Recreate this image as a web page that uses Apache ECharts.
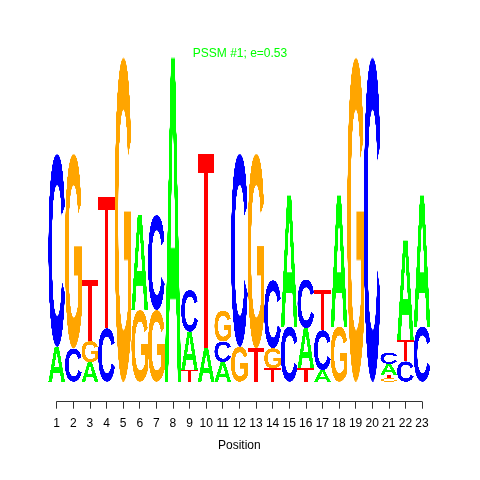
<!DOCTYPE html>
<html>
<head>
<meta charset="utf-8">
<script src="https://cdn.jsdelivr.net/npm/echarts@6/dist/echarts.min.js"></script>
<style>
  html, body { margin: 0; padding: 0; background: #fff; }
  #main { width: 480px; height: 480px; }
</style>
</head>
<body>
<div id="main"></div>
<script>
// positions and information content (bits) per base
var positions = [1, 2, 3, 4, 5, 6, 7, 8, 9, 10, 11, 12, 13, 14, 15, 16, 17, 18, 19, 20, 21, 22, 23];
var bitsA = [0.215, 0, 0.12, 0, 0, 0.586, 0, 2.0, 0.236, 0.206, 0.122, 0, 0, 0, 0.81, 0.247, 0.072, 0.81, 0, 0, 0.067, 0.617, 0.81];
var bitsC = [1.19, 0.205, 0, 0.33, 0, 0, 0.586, 0, 0.257, 0, 0.126, 1.19, 0, 0.42, 0.34, 0.30, 0.245, 0, 0, 2.0, 0.068, 0.125, 0.34];
var bitsG = [0, 1.20, 0.13, 0, 2.0, 0.442, 0.442, 0, 0, 0, 0.19, 0.216, 1.20, 0.123, 0, 0, 0, 0.34, 2.0, 0, 0.021, 0, 0];
var bitsT = [0, 0, 0.376, 0.81, 0, 0, 0, 0, 0.072, 1.20, 0, 0, 0.206, 0.083, 0, 0.083, 0.25, 0, 0, 0, 0.022, 0.13, 0];
var letters = ["A", "C", "G", "T"];
var tickLabels = positions.map(function (p) { return String(p); });

var letterColors = ["#00ff00", "#0000ff", "#ffa500", "#ff0000"];

// draw each letter once on a canvas, cropped to its ink box
function makeGlyph(ch, color) {
  if (ch === "T") {
    // T as in seqLogo: thin bar on top, stem in the middle
    var t = document.createElement("canvas");
    t.width = 300;
    t.height = 400;
    var tc = t.getContext("2d");
    tc.fillStyle = color;
    tc.fillRect(0, 0, 300, 40);
    tc.fillRect(117, 0, 66, 400);
    return t;
  }
  var c = document.createElement("canvas");
  c.width = 600;
  c.height = 600;
  var ctx = c.getContext("2d");
  ctx.font = 'bold 400px "Liberation Sans", Arial, sans-serif';
  ctx.fillStyle = color;
  ctx.textBaseline = "alphabetic";
  ctx.fillText(ch, 100, 480);
  var img = ctx.getImageData(0, 0, c.width, c.height).data;
  var x0 = c.width, x1 = 0, y0 = c.height, y1 = 0;
  for (var y = 0; y < c.height; y++) {
    for (var x = 0; x < c.width; x++) {
      if (img[(y * c.width + x) * 4 + 3] > 60) {
        if (x < x0) x0 = x;
        if (x > x1) x1 = x;
        if (y < y0) y0 = y;
        if (y > y1) y1 = y;
      }
    }
  }
  var out = document.createElement("canvas");
  out.width = x1 - x0 + 1;
  out.height = y1 - y0 + 1;
  out.getContext("2d").drawImage(c, x0, y0, out.width, out.height, 0, 0, out.width, out.height);
  return out;
}
var glyphs = letters.map(function (l, i) { return makeGlyph(l, letterColors[i]); });

// stack letters per position, smallest at the bottom
var stacks = [];
var allBits = [bitsA, bitsC, bitsG, bitsT];
positions.forEach(function (p, i) {
  var col = [0, 1, 2, 3].map(function (k) { return { k: k, v: allBits[k][i] }; });
  col.sort(function (a, b) { return a.v - b.v; });
  var base = 0;
  col.forEach(function (d) {
    if (d.v > 0) {
      stacks.push([p, base, base + d.v, d.k]);
      base += d.v;
    }
  });
});

var chart = echarts.init(document.getElementById("main"));
var font = '"Liberation Sans", Arial, sans-serif';
chart.setOption({
  animation: false,
  backgroundColor: "#ffffff",
  title: {
    text: "PSSM #1; e=0.53",
    left: "center",
    top: 43,
    textStyle: { color: "#00ff00", fontSize: 12, fontWeight: "normal", fontFamily: font }
  },
  grid: [
    { left: 48.4, width: 381.9, top: 57.3, height: 324.4 },
    { left: 56.7, width: 365.3, top: 300, height: 101.7 }
  ],
  xAxis: [
    { type: "value", gridIndex: 0, min: 0.5, max: 23.5, show: false },
    {
      type: "value",
      gridIndex: 1,
      min: 1,
      max: 23,
      interval: 1,
      name: "Position",
      nameLocation: "middle",
      nameGap: 38,
      nameTextStyle: { color: "#000", fontSize: 12, fontFamily: font },
      splitLine: { show: false },
      axisLine: { lineStyle: { color: "#333", width: 1 } },
      axisTick: { length: 7, lineStyle: { color: "#333" } },
      axisLabel: {
        margin: 16,
        color: "#000",
        fontSize: 12,
        fontFamily: font,
        formatter: function (v) { return tickLabels[v - 1]; }
      }
    }
  ],
  yAxis: [
    { type: "value", gridIndex: 0, min: 0, max: 2, show: false },
    { type: "value", gridIndex: 1, min: 0, max: 1, show: false }
  ],
  series: [
    {
      type: "custom",
      xAxisIndex: 0,
      yAxisIndex: 0,
      encode: { x: 0, y: [1, 2] },
      data: stacks,
      renderItem: function (params, api) {
        var pos = api.value(0);
        var lo = api.value(1);
        var hi = api.value(2);
        var k = api.value(3);
        var p0 = api.coord([pos - 0.5, hi]);
        var p1 = api.coord([pos + 0.5, lo]);
        return {
          type: "image",
          style: {
            image: glyphs[k],
            x: p0[0],
            y: p0[1],
            width: p1[0] - p0[0],
            height: p1[1] - p0[1]
          }
        };
      }
    }
  ]
});
</script>
</body>
</html>
